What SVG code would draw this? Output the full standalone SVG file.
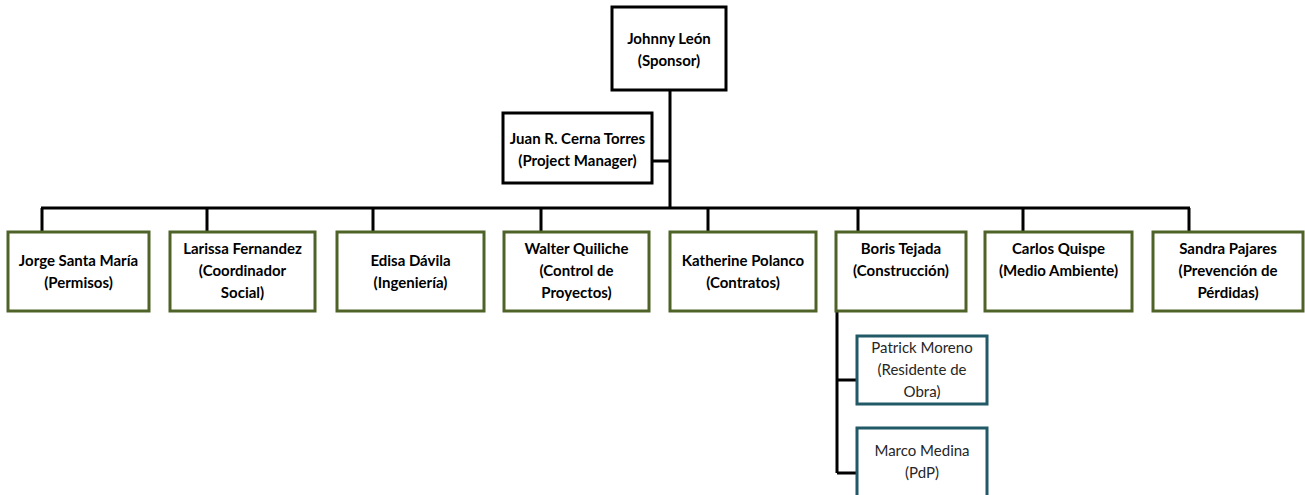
<svg xmlns="http://www.w3.org/2000/svg" width="1305" height="495" viewBox="0 0 1305 495">
<style>
.bk{fill:#fff;stroke:#000;stroke-width:3}
.gr{fill:#fff;stroke:#4F6228;stroke-width:3}
.tl{fill:#fff;stroke:#215967;stroke-width:3}
.b{font-family:Lato,"Liberation Sans",sans-serif;font-weight:bold;font-size:15px;fill:#000;text-anchor:middle}
.r{font-family:Lato,"Liberation Sans",sans-serif;font-size:15px;fill:#262626;text-anchor:middle}
.c{stroke:#000;stroke-width:3;fill:none}
</style>
<rect width="1305" height="495" fill="#fff"/>
<g id="connectors">
<path class="c" d="M670 90V208M652 161H670M41 208H1190M42 208V232M207 208V232M373 208V232M541 208V232M708 208V232M858 208V232M1023 208V232M1189 208V232M837 311V473M837 380H857M837 473H857"/>
</g>
<g id="sponsor"><rect class="bk" x="612" y="7" width="114" height="83"/>
<text class="b" x="669" y="44">Johnny León</text><text class="b" x="669" y="66">(Sponsor)</text></g>
<g id="pm"><rect class="bk" x="503" y="113" width="149" height="70"/>
<text class="b" x="577.5" y="144">Juan R. Cerna Torres</text><text class="b" x="577.5" y="166">(Project Manager)</text></g>
<g id="jorge"><rect class="gr" x="8" y="232" width="141" height="79"/>
<text class="b" x="78.5" y="266">Jorge Santa María</text><text class="b" x="78.5" y="288">(Permisos)</text></g>
<g id="larissa"><rect class="gr" x="170" y="232" width="145" height="79"/>
<text class="b" x="242.5" y="254">Larissa Fernandez</text><text class="b" x="242.5" y="276">(Coordinador</text><text class="b" x="242.5" y="298">Social)</text></g>
<g id="edisa"><rect class="gr" x="337" y="232" width="147" height="79"/>
<text class="b" x="410.5" y="266">Edisa Dávila</text><text class="b" x="410.5" y="288">(Ingeniería)</text></g>
<g id="walter"><rect class="gr" x="504" y="232" width="145" height="79"/>
<text class="b" x="576.5" y="254">Walter Quiliche</text><text class="b" x="576.5" y="276">(Control de</text><text class="b" x="576.5" y="298">Proyectos)</text></g>
<g id="katherine"><rect class="gr" x="670" y="232" width="146" height="79"/>
<text class="b" x="743" y="266">Katherine Polanco</text><text class="b" x="743" y="288">(Contratos)</text></g>
<g id="boris"><rect class="gr" x="836" y="232" width="130" height="79"/>
<text class="b" x="901" y="254">Boris Tejada</text><text class="b" x="901" y="276">(Construcción)</text></g>
<g id="carlos"><rect class="gr" x="985" y="232" width="147" height="79"/>
<text class="b" x="1058.5" y="254">Carlos Quispe</text><text class="b" x="1058.5" y="276">(Medio Ambiente)</text></g>
<g id="sandra"><rect class="gr" x="1153" y="232" width="150" height="79"/>
<text class="b" x="1228" y="254">Sandra Pajares</text><text class="b" x="1228" y="276">(Prevención de</text><text class="b" x="1228" y="298">Pérdidas)</text></g>
<g id="patrick"><rect class="tl" x="857" y="336" width="130" height="68"/>
<text class="r" x="922" y="353">Patrick Moreno</text><text class="r" x="922" y="375">(Residente de</text><text class="r" x="922" y="397">Obra)</text></g>
<g id="marco"><rect class="tl" x="857" y="428" width="130" height="72"/>
<text class="r" x="922" y="456">Marco Medina</text><text class="r" x="922" y="478">(PdP)</text></g>
</svg>
